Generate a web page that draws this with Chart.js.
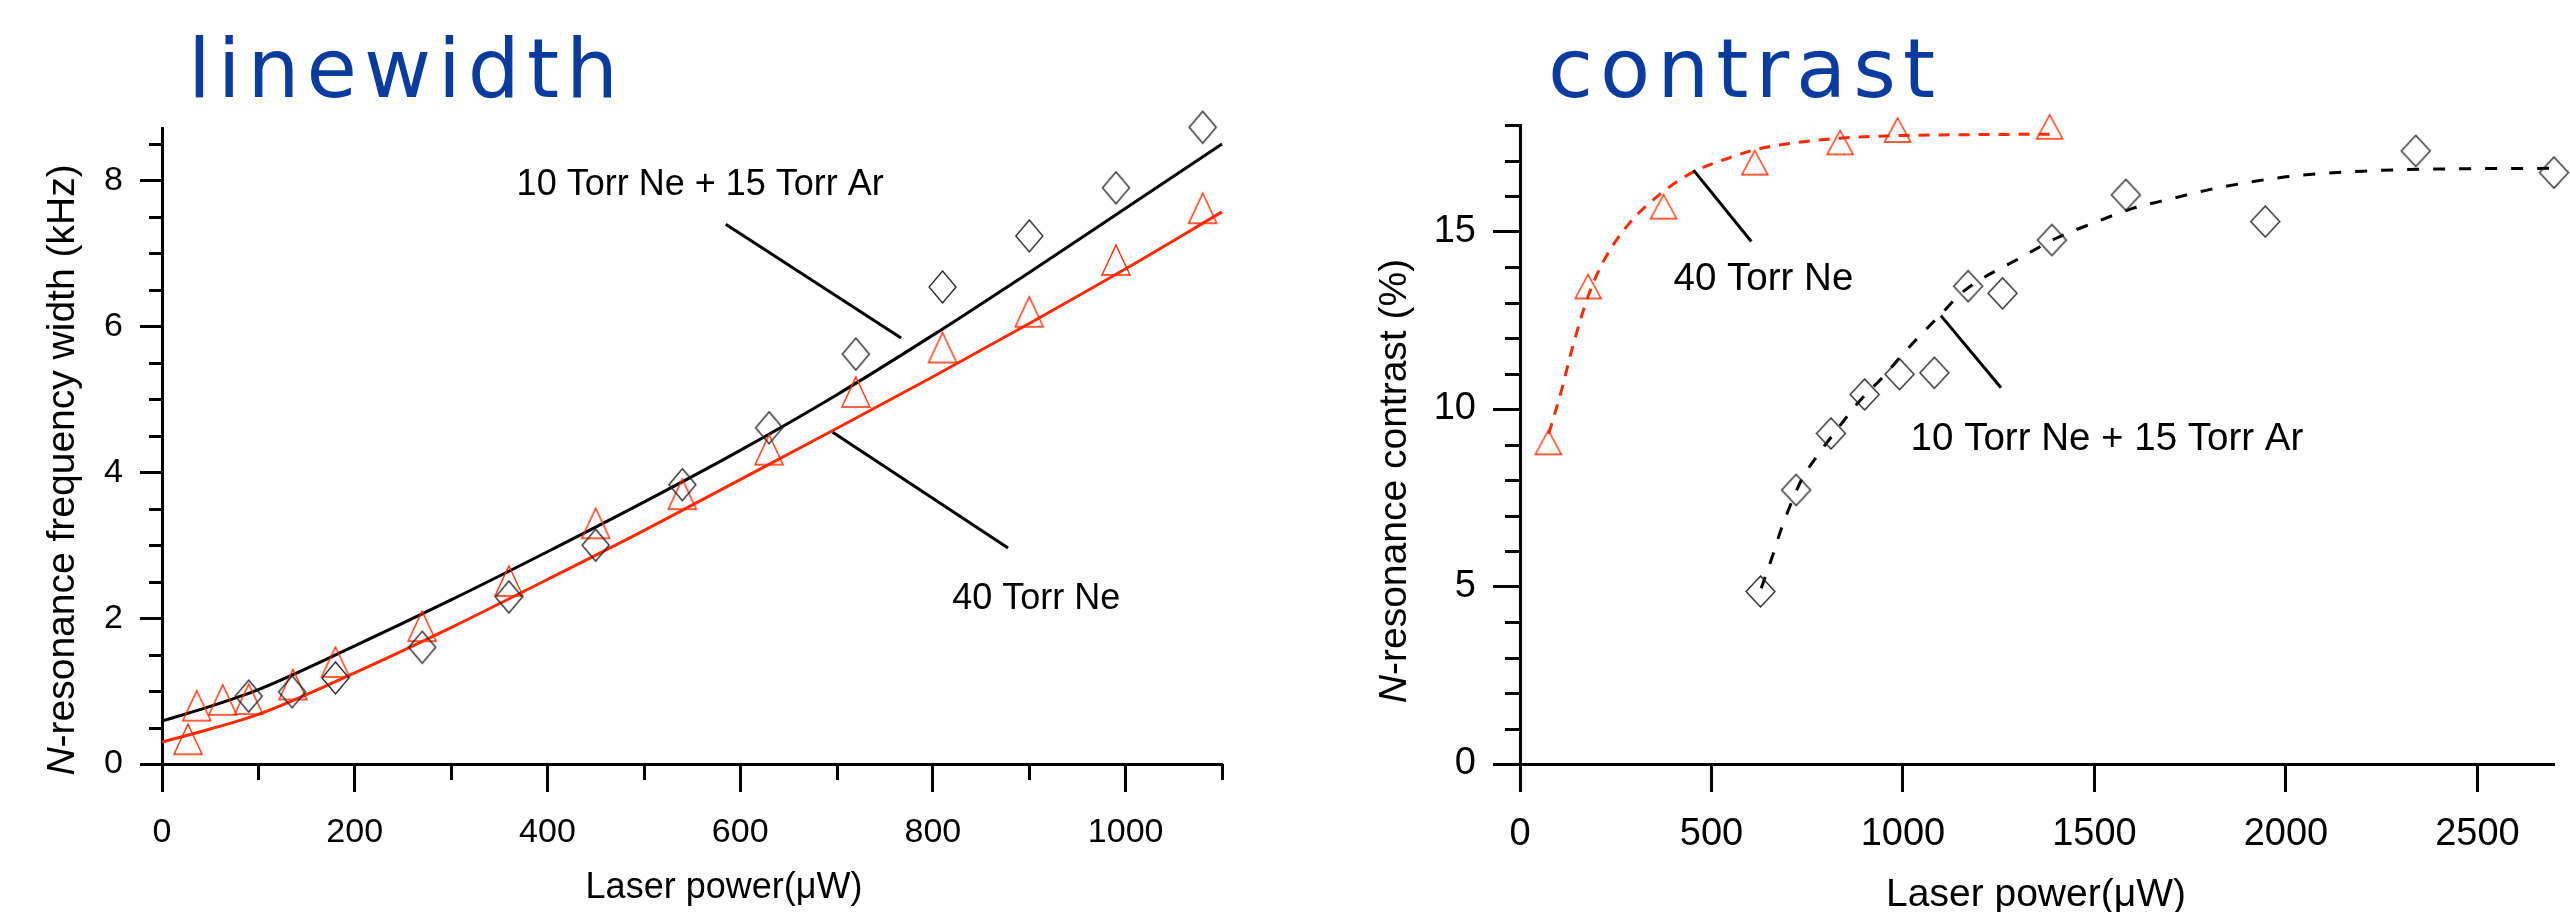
<!DOCTYPE html>
<html>
<head>
<meta charset="utf-8">
<script src="https://cdn.jsdelivr.net/npm/chart.js@4.4.1/dist/chart.umd.min.js"></script>
<style>
  body { margin: 0; background: #fff; }
  #page { position: relative; width: 2570px; height: 912px; overflow: hidden; background: #fff; }
  canvas { position: absolute; top: 0; }
  .panel-title {
    position: absolute; top: 28px; margin: 0;
    font-family: "DejaVu Sans", sans-serif; font-weight: normal;
    font-size: 82px; line-height: 82px; letter-spacing: 7px; color: #0a3b9f;
  }
</style>
</head>
<body>
<div id="page">
  <canvas id="linewidthChart" width="1290" height="912" style="left:0"></canvas>
  <canvas id="contrastChart" width="1280" height="912" style="left:1290px"></canvas>
  <h1 class="panel-title" style="left:188px">linewidth</h1>
  <h1 class="panel-title" style="left:1548px">contrast</h1>
</div>
<script>
// ---- linewidth panel: N-resonance width (kHz) vs laser power (uW) ----
const widthPowerNeAr = [90, 135, 180, 270, 360, 450, 540, 630, 720, 810, 900, 990, 1080];
const widthNeAr      = [0.93, 0.99, 1.18, 1.60, 2.29, 3.00, 3.83, 4.61, 5.62, 6.54, 7.24, 7.90, 8.73];
const widthPowerNe   = [27, 36, 63, 90, 136, 180, 270, 360, 450, 540, 630, 720, 810, 900, 990, 1080];
const widthNe        = [0.34, 0.80, 0.88, 0.89, 1.09, 1.40, 1.89, 2.51, 3.30, 3.70, 4.31, 5.10, 5.71, 6.20, 6.91, 7.62];
// fitted curves
const widthFitPower  = [0, 50, 100, 200, 300, 400, 500, 600, 700, 800, 900, 1000, 1100];
const widthFitNeAr   = [0.59, 0.79, 1.02, 1.62, 2.25, 2.91, 3.59, 4.30, 5.06, 5.88, 6.74, 7.62, 8.50];
const widthFitNe     = [0.30, 0.48, 0.68, 1.25, 1.87, 2.53, 3.20, 3.90, 4.60, 5.31, 6.04, 6.79, 7.57];

// ---- contrast panel: N-resonance contrast (%) vs laser power (uW) ----
const contrastPowerNe   = [74, 178, 375, 613, 836, 986, 1383];
const contrastNe        = [9.06, 13.45, 15.70, 16.94, 17.51, 17.86, 17.95];
const contrastPowerNeAr = [628, 721, 812, 900, 991, 1082, 1170, 1260, 1389, 1582, 1946, 2339, 2700];
const contrastNeAr      = [4.86, 7.72, 9.31, 10.41, 10.98, 11.02, 13.46, 13.26, 14.76, 16.03, 15.28, 17.27, 16.66];
const contrastFitPowerNe = [75, 107, 140, 180, 220, 287, 375, 453, 540, 620, 720, 833, 986, 1200, 1395];
const contrastFitNe      = [9.30, 10.47, 11.85, 13.24, 14.20, 15.25, 16.13, 16.68, 17.05, 17.32, 17.50, 17.63, 17.70, 17.73, 17.74];
const contrastFitPowerNeAr = [630, 660, 680, 700, 735, 780, 830, 880, 950, 1000, 1050, 1100, 1150, 1200, 1300, 1400, 1500, 1600, 1700, 1800, 2000, 2200, 2400, 2700];
const contrastFitNeAr      = [4.95, 5.88, 6.55, 7.13, 8.00, 8.74, 9.45, 10.14, 10.93, 11.55, 12.13, 12.68, 13.24, 13.63, 14.22, 14.81, 15.25, 15.65, 15.92, 16.18, 16.54, 16.70, 16.76, 16.78];

// axis tick labels
const widthXTicks = [0, 200, 400, 600, 800, 1000];
const widthYTicks = [0, 2, 4, 6, 8];
const contrastXTicks = [0, 500, 1000, 1500, 2000, 2500];
const contrastYTicks = [0, 5, 10, 15];

const RED = "#ff2a00";
const TEXT_FONT = '"Liberation Sans", Arial, sans-serif';

const zip = (xs, ys) => xs.map((x, i) => ({ x: x, y: ys[i] }));

// open marker symbols, drawn once into small canvases
function makeMarker(shape, w, h, color, lw) {
    const pad = 2;
    const c = document.createElement("canvas");
    c.width = w + pad * 2;
    c.height = h + pad * 2;
    const g = c.getContext("2d");
    g.strokeStyle = color;
    g.lineWidth = lw;
    g.beginPath();
    if (shape === "triangle") {
        g.moveTo(pad + w / 2, pad);
        g.lineTo(pad + w, pad + h);
        g.lineTo(pad, pad + h);
    } else {
        g.moveTo(pad + w / 2, pad);
        g.lineTo(pad + w, pad + h / 2);
        g.lineTo(pad + w / 2, pad + h);
        g.lineTo(pad, pad + h / 2);
    }
    g.closePath();
    g.stroke();
    return c;
}

// pointer lines, free labels, minor ticks and axis titles
const decorPlugin = {
    id: "decor",
    afterDatasetsDraw(chart, args, opts) {
        const { ctx } = chart;
        const xs = chart.scales.x, ys = chart.scales.y;
        ctx.save();
        ctx.strokeStyle = "#000";
        ctx.lineWidth = 3;
        opts.pointers.forEach(p => {
            ctx.beginPath();
            ctx.moveTo(xs.getPixelForValue(p[0]), ys.getPixelForValue(p[1]));
            ctx.lineTo(xs.getPixelForValue(p[2]), ys.getPixelForValue(p[3]));
            ctx.stroke();
        });
        ctx.fillStyle = "#000";
        ctx.font = opts.labelFont;
        ctx.textAlign = "left";
        ctx.textBaseline = "alphabetic";
        opts.labels.forEach(l => ctx.fillText(l.text, xs.getPixelForValue(l.x), ys.getPixelForValue(l.y)));
        ctx.restore();
    },
    afterDraw(chart, args, opts) {
        const { ctx, chartArea } = chart;
        const xs = chart.scales.x, ys = chart.scales.y;
        ctx.save();
        ctx.strokeStyle = "#000";
        ctx.lineWidth = 3;
        // minor ticks
        const mx = opts.minorX;
        if (mx) {
            for (let v = mx.from; v <= xs.max + 1e-9; v += mx.step) {
                const px = Math.round(xs.getPixelForValue(v)) + 0.5;
                ctx.beginPath();
                ctx.moveTo(px, chartArea.bottom);
                ctx.lineTo(px, chartArea.bottom + mx.length);
                ctx.stroke();
            }
        }
        const my = opts.minorY;
        for (let v = my.step; v <= ys.max + 1e-9; v += my.step) {
            if (Math.abs(v / my.major - Math.round(v / my.major)) < 1e-6) continue;
            const py = Math.round(ys.getPixelForValue(v)) + 0.5;
            ctx.beginPath();
            ctx.moveTo(chartArea.left, py);
            ctx.lineTo(chartArea.left - my.length, py);
            ctx.stroke();
        }
        // axis titles
        ctx.fillStyle = "#000";
        const xt = opts.xTitle;
        ctx.font = xt.font;
        ctx.textAlign = "center";
        ctx.textBaseline = "alphabetic";
        ctx.fillText(xt.text, xt.cx, xt.baseline);

        const yt = opts.yTitle;
        ctx.translate(yt.cx, yt.cy);
        ctx.rotate(-Math.PI / 2);
        ctx.textAlign = "left";
        ctx.textBaseline = "middle";
        ctx.font = "italic " + yt.font;
        const w1 = ctx.measureText(yt.italic).width;
        ctx.font = yt.font;
        const w2 = ctx.measureText(yt.text).width;
        const start = -(w1 + w2) / 2;
        ctx.font = "italic " + yt.font;
        ctx.fillText(yt.italic, start, 0);
        ctx.font = yt.font;
        ctx.fillText(yt.text, start + w1, 0);
        ctx.restore();
    }
};

function axisOptions(min, max, tickLabels, fontSize, tickLength, padding, size, horizontal) {
    return {
        type: "linear",
        min: min,
        max: max,
        afterBuildTicks: scale => { scale.ticks = tickLabels.map(v => ({ value: v })); },
        afterFit: scale => {
            if (horizontal) scale.height = size; else scale.width = size;
        },
        border: { display: true, color: "#000", width: 3 },
        grid: {
            display: true,
            drawOnChartArea: false,
            drawTicks: true,
            tickLength: tickLength,
            tickWidth: 3,
            tickColor: "#000"
        },
        ticks: {
            color: "#000",
            padding: padding,
            font: { family: TEXT_FONT, size: fontSize },
            callback: v => String(v),
            maxRotation: 0,
            autoSkip: false
        },
        title: { display: false }
    };
}

function markerSet(label, points, marker) {
    return {
        label: label,
        data: points,
        showLine: false,
        pointStyle: marker,
        pointRadius: 14,
        order: 1,
        clip: false
    };
}

function fitSet(label, points, color, dash) {
    return {
        label: label,
        data: points,
        showLine: true,
        borderColor: color,
        borderWidth: 3,
        borderDash: dash,
        pointRadius: 0,
        cubicInterpolationMode: "monotone",
        order: 2,
        clip: false
    };
}

// linewidth chart
new Chart(document.getElementById("linewidthChart"), {
    type: "scatter",
    data: {
        datasets: [
            markerSet("10 Torr Ne + 15 Torr Ar", zip(widthPowerNeAr, widthNeAr), makeMarker("diamond", 27, 32, "#222", 1.3)),
            markerSet("40 Torr Ne", zip(widthPowerNe, widthNe), makeMarker("triangle", 28, 30, RED, 1.4)),
            fitSet("fit 10 Torr Ne + 15 Torr Ar", zip(widthFitPower, widthFitNeAr), "#000", []),
            fitSet("fit 40 Torr Ne", zip(widthFitPower, widthFitNe), RED, [])
        ]
    },
    options: {
        responsive: false,
        animation: false,
        events: [],
        layout: { autoPadding: false, padding: { left: 0, right: 68, top: 128, bottom: 0 } },
        scales: {
            x: axisOptions(0, 1100, widthXTicks, 34, 28, 20, 148, true),
            y: axisOptions(0, 8.72, widthYTicks, 34, 22, 17, 162, false)
        },
        plugins: {
            legend: { display: false },
            tooltip: { enabled: false },
            decor: {
                labelFont: "36px " + TEXT_FONT,
                pointers: [[585, 7.40, 767, 5.84], [696, 4.55, 878, 2.96]],
                labels: [
                    { text: "10 Torr Ne + 15 Torr Ar", x: 368, y: 7.80 },
                    { text: "40 Torr Ne", x: 820, y: 2.12 }
                ],
                minorX: { from: 100, step: 200, length: 16 },
                minorY: { step: 0.5, major: 2, length: 13 },
                xTitle: { text: "Laser power(\u03bcW)", font: "36px " + TEXT_FONT, cx: 724, baseline: 898 },
                yTitle: { italic: "N", text: "-resonance frequency width (kHz)", font: "39px " + TEXT_FONT, cx: 63, cy: 470 }
            }
        }
    },
    plugins: [decorPlugin]
});

// contrast chart
new Chart(document.getElementById("contrastChart"), {
    type: "scatter",
    data: {
        datasets: [
            markerSet("40 Torr Ne", zip(contrastPowerNe, contrastNe), makeMarker("triangle", 26, 24, RED, 1.4)),
            markerSet("10 Torr Ne + 15 Torr Ar", zip(contrastPowerNeAr, contrastNeAr), makeMarker("diamond", 29, 31, "#222", 1.3)),
            fitSet("fit 40 Torr Ne", zip(contrastFitPowerNe, contrastFitNe), RED, [11, 9]),
            fitSet("fit 10 Torr Ne + 15 Torr Ar", zip(contrastFitPowerNeAr, contrastFitNeAr), "#000", [12, 14])
        ]
    },
    options: {
        responsive: false,
        animation: false,
        events: [],
        layout: { autoPadding: false, padding: { left: 0, right: 16, top: 125, bottom: 0 } },
        scales: {
            x: axisOptions(0, 2700, contrastXTicks, 38, 28, 20, 148, true),
            y: axisOptions(0, 18, contrastYTicks, 38, 27, 17, 230, false)
        },
        plugins: {
            legend: { display: false },
            tooltip: { enabled: false },
            decor: {
                labelFont: "38.5px " + TEXT_FONT,
                pointers: [[453, 16.73, 604, 14.72], [1099, 12.63, 1256, 10.60]],
                labels: [
                    { text: "40 Torr Ne", x: 401, y: 13.36 },
                    { text: "10 Torr Ne + 15 Torr Ar", x: 1020, y: 8.85 }
                ],
                minorX: null,
                minorY: { step: 1, major: 5, length: 15 },
                xTitle: { text: "Laser power(\u03bcW)", font: "39px " + TEXT_FONT, cx: 746, baseline: 906 },
                yTitle: { italic: "N", text: "-resonance contrast (%)", font: "39px " + TEXT_FONT, cx: 105, cy: 481 }
            }
        }
    },
    plugins: [decorPlugin]
});
</script>
</body>
</html>
